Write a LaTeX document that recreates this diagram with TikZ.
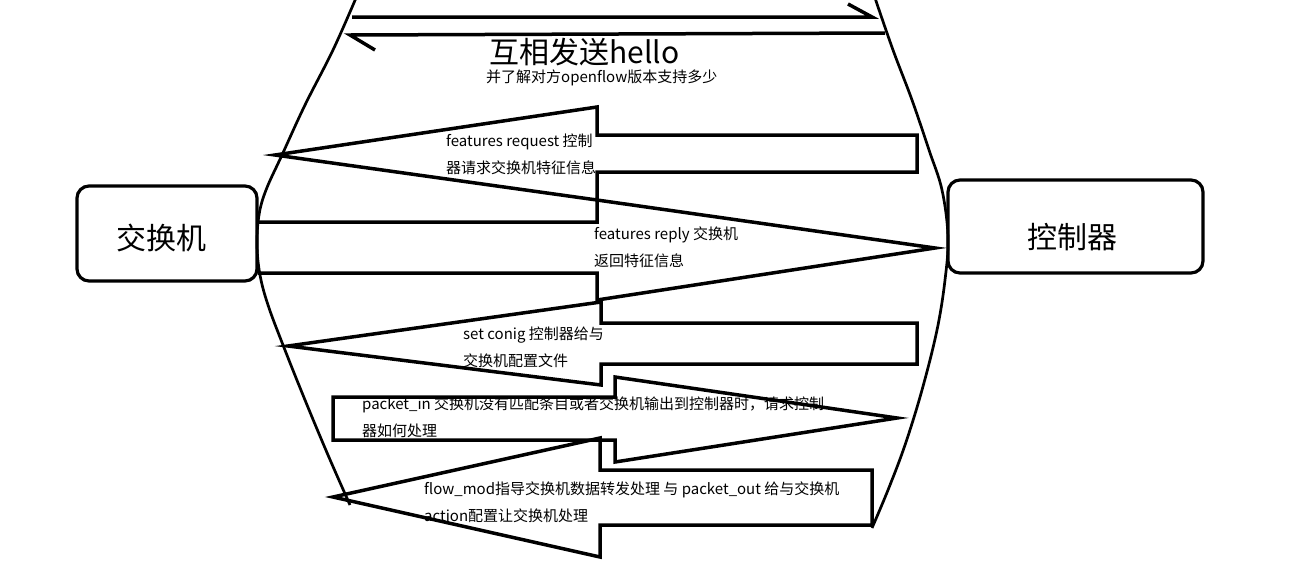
\documentclass[tikz,border=0pt]{standalone}
\usepackage{fontspec}
\setmainfont{Noto Sans CJK SC}
\begin{document}
\begin{tikzpicture}[x=1pt,y=-1pt,
  shp/.style={line width=3.5pt, line join=miter},
  crv/.style={line width=2.7pt},
  lbl/.style={anchor=west, inner sep=0pt, font=\fontsize{15}{17}\selectfont},
  big/.style={inner sep=0pt, font=\fontsize{30}{34}\selectfont},
  box/.style={draw, line width=3.2pt, rounded corners=12pt}]
\useasboundingbox (0,0) rectangle (1298,582);

% boxes
\node[box, minimum width=180pt, minimum height=95pt] (sw) at (167,233.5) {};
\node[box, minimum width=255pt, minimum height=93pt] (ctl) at (1075.5,226.5) {};
\node[big] (swl) at (161,238) {交换机};
\node[big] (ctll) at (1072,237) {控制器};

% curves
\draw[crv] plot[smooth, tension=0.6] coordinates {(356,-2) (333,50) (305,105) (282,155) (266,190) (259,215) (257,245) (260,275) (268,305) (283,345) (305,400) (328,455) (350,505)};
\draw[crv] plot[smooth, tension=0.6] coordinates {(875,-2) (893,50) (912,100) (929,150) (942,190) (948,237) (945,280) (937,330) (922,390) (905,445) (888,490) (872,528)};

% top arrows
\draw[shp] (352,17) -- (872,17) -- (848,4);
\draw[shp] (885,33) -- (350,35) -- (375,50);

% block arrows
\draw[shp] (275,155) -- (597,107) -- (597,135) -- (917,135) -- (917,172) -- (597,172) -- (597,200) -- cycle;
\draw[shp] (258,222) -- (597,222) -- (597,200) -- (935,248) -- (597,300) -- (597,273) -- (258,273);
\draw[shp] (288,346) -- (601,302) -- (601,323) -- (917,323) -- (917,364) -- (601,364) -- (601,385) -- cycle;
\draw[shp] (333,397) -- (615,397) -- (615,377) -- (897,418) -- (615,462) -- (615,440) -- (333,440) -- cycle;
\draw[shp] (333,497) -- (600,438) -- (600,470) -- (872,470) -- (872,525) -- (600,525) -- (600,557) -- cycle;

% texts
\node[big, anchor=west] (hello) at (489,52) {互相发送hello};
\node[lbl] (hello2) at (486,78) {并了解对方openflow版本支持多少};
\node[lbl] (t1a) at (446,142) {features request 控制};
\node[lbl] (t1b) at (446,168) {器请求交换机特征信息};
\node[lbl] (t2a) at (594,235) {features reply 交换机};
\node[lbl] (t2b) at (594,261) {返回特征信息};
\node[lbl] (t3a) at (463,335) {set conig 控制器给与};
\node[lbl] (t3b) at (463,361) {交换机配置文件};
\node[lbl] (t4a) at (362,405) {packet\_in 交换机没有匹配条目或者交换机输出到控制器时，请求控制};
\node[lbl] (t4b) at (362,431) {器如何处理};
\node[lbl] (t5a) at (424,490) {flow\_mod指导交换机数据转发处理 与 packet\_out 给与交换机};
\node[lbl] (t5b) at (424,516) {action配置让交换机处理};
\end{tikzpicture}
\end{document}
